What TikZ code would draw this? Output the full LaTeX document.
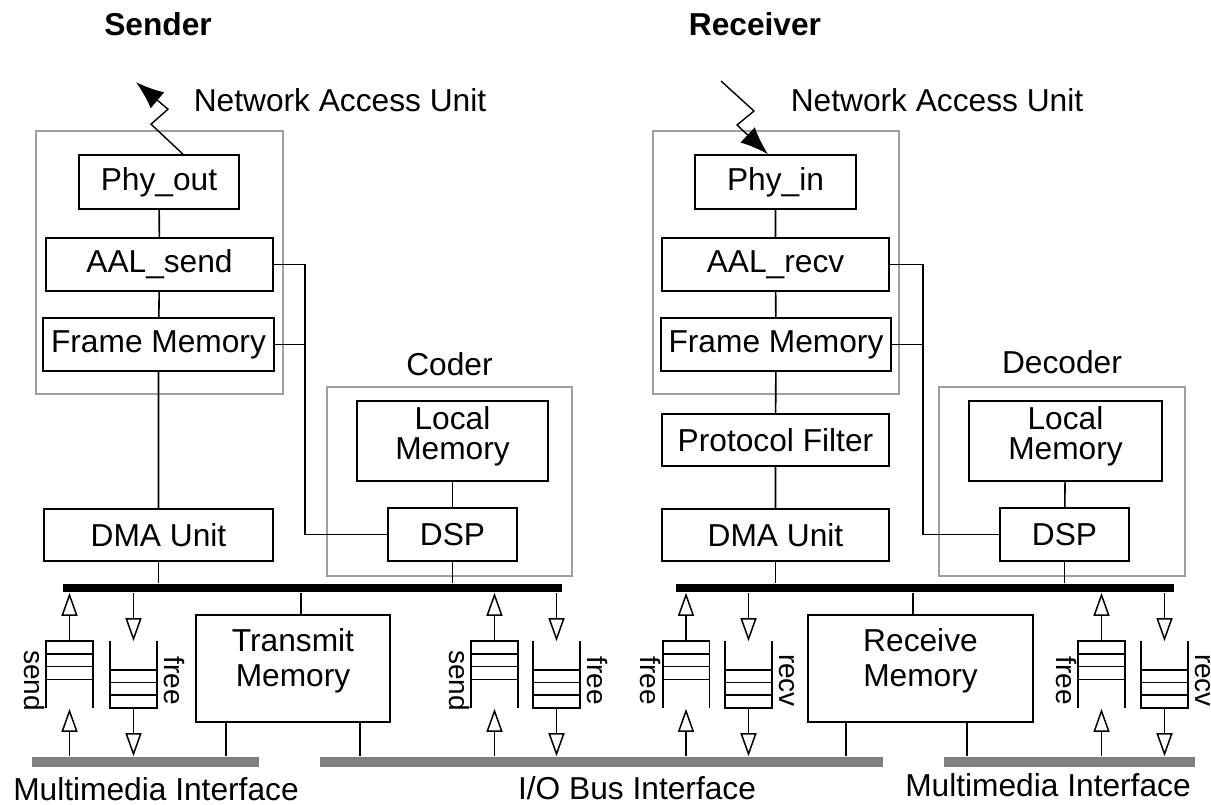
\documentclass[tikz,border=0pt]{standalone}
\usepackage{fontspec}
\setmainfont{Liberation Sans}
\usetikzlibrary{arrows.meta}

\tikzset{
  unit/.style={draw, line width=1.6pt, inner sep=0pt, font=\fontsize{31.7}{35}\selectfont},
  group/.style={draw=gray!75, line width=1.6pt, inner sep=0pt},
  caption/.style={inner sep=0pt, font=\fontsize{31.7}{35}\selectfont},
  qlabel/.style={inner sep=0pt, rotate=-90, anchor=base, font=\fontsize{28}{30}\selectfont},
  bus/.style={fill=black, inner sep=0pt, minimum height=8pt},
  iface/.style={fill=gray, inner sep=0pt, minimum height=10pt},
  queue/.style={inner sep=0pt, minimum width=45pt, minimum height=65pt},
  qarrow/.style={line width=1.5pt, -{Triangle[open, length=23pt, width=16pt]}},
  antenna/.style={line width=1.4pt, -{Latex[length=28pt, width=21pt]}},
}

\begin{document}
\begin{tikzpicture}[x=1pt, y=-1pt, line width=1.6pt]
  \useasboundingbox (0,0) rectangle (1211,805);

  \node[caption, font=\fontsize{31.7}{35}\selectfont\bfseries, anchor=base] (sender) at (158,36) {Sender};
  \node[caption, font=\fontsize{31.7}{35}\selectfont\bfseries, anchor=base] (receiver) at (755,36) {Receiver};

  % sender side
  \node[group, minimum width=247pt, minimum height=263pt] (snau) at (159.5,262.5) {};
  \node[caption, anchor=base west] (snaulab) at (193,112) {Network Access Unit};
  \node[unit, minimum width=160pt, minimum height=54pt] (phyout) at (159,182) {Phy\_out};
  \node[unit, minimum width=227pt, minimum height=53pt] (aalsend) at (159.5,264.5) {AAL\_send};
  \node[unit, minimum width=231pt, minimum height=53pt] (sfm) at (158.5,344.5) {Frame Memory};
  \node[unit, minimum width=229pt, minimum height=52pt] (sdma) at (158.5,535) {DMA Unit};

  \node[group, minimum width=245pt, minimum height=189pt] (coder) at (449.5,481.5) {};
  \node[caption, anchor=base] (coderlab) at (449.5,375) {Coder};
  \node[unit, minimum width=191pt, minimum height=80pt] (slm) at (452.5,441) {};
  \node[caption, align=center, font=\fontsize{31.7}{30}\selectfont] (slmtxt) at (452.5,436) {Local\\Memory};
  \node[unit, minimum width=129pt, minimum height=53pt] (sdsp) at (452.5,534.5) {DSP};

  \node[bus, minimum width=499pt] (sbus) at (312.5,588) {};
  \node[unit, minimum width=194pt, minimum height=107pt] (tmem) at (293,668.5) {};
  \node[caption, align=center] (tmemtxt) at (293,661) {Transmit\\Memory};

  % receiver side
  \node[group, minimum width=246pt, minimum height=263pt] (rnau) at (776,262.5) {};
  \node[caption, anchor=base west] (rnaulab) at (790,112) {Network Access Unit};
  \node[unit, minimum width=161pt, minimum height=54pt] (phyin) at (775.5,182) {Phy\_in};
  \node[unit, minimum width=227pt, minimum height=53pt] (aalrecv) at (775.5,264.5) {AAL\_recv};
  \node[unit, minimum width=230pt, minimum height=53pt] (rfm) at (776,344.5) {Frame Memory};
  \node[unit, minimum width=227pt, minimum height=52pt] (pfilter) at (775.5,440) {Protocol Filter};
  \node[unit, minimum width=227pt, minimum height=52pt] (rdma) at (775.5,535) {DMA Unit};

  \node[group, minimum width=246pt, minimum height=189pt] (decoder) at (1062,481.5) {};
  \node[caption, anchor=base] (decoderlab) at (1062,373) {Decoder};
  \node[unit, minimum width=193pt, minimum height=80pt] (rlm) at (1065.5,441) {};
  \node[caption, align=center, font=\fontsize{31.7}{30}\selectfont] (rlmtxt) at (1065.5,436) {Local\\Memory};
  \node[unit, minimum width=129pt, minimum height=53pt] (rdsp) at (1064.5,534.5) {DSP};

  \node[bus, minimum width=498pt] (rbus) at (925,588) {};
  \node[unit, minimum width=225pt, minimum height=107pt] (rmem) at (920.5,668.5) {};
  \node[caption, align=center] (rmemtxt) at (920.5,661) {Receive\\Memory};

  % interfaces
  \node[iface, minimum width=227pt] (lmm) at (145.5,762) {};
  \node[iface, minimum width=563pt] (iobus) at (601.5,762) {};
  \node[iface, minimum width=251pt] (rmm) at (1069.5,762) {};
  \node[caption, anchor=base] (lmmlab) at (156,800) {Multimedia Interface};
  \node[caption, anchor=base] (iolab) at (637,799) {I/O Bus Interface};
  \node[caption, anchor=base] (rmmlab) at (1048,796) {Multimedia Interface};

  % antennas
  \draw[antenna] ([xshift=24pt]phyout.north) -- ++(-32,-30) -- ++(17,-15) -- ++(-32,-27);
  \coordinate (rsky) at (721,81);
  \draw[antenna] (rsky) -- ++(33,30) -- ++(-17,14) -- ([xshift=-7.5pt]phyin.north);

  % links
  \draw (phyout) -- (aalsend) -- (sfm) -- (sdma);
  \draw (sdma) -- (sdma |- sbus.north);
  \draw (slm) -- (sdsp);
  \draw (sdsp) -- (sdsp |- sbus.north);
  \coordinate (sjoin) at (305,264.5);
  \draw (aalsend.east) -- (sjoin) |- (sdsp.west);
  \draw (sfm.east) -- (sfm.east -| sjoin);
  \draw ([xshift=8pt]tmem.north) -- ([xshift=8pt]tmem.north |- sbus.south);
  \draw ([xshift=-67pt]tmem.south) -- ([xshift=-67pt]tmem.south |- lmm.north);
  \draw ([xshift=67pt]tmem.south) -- ([xshift=67pt]tmem.south |- iobus.north);

  \draw (phyin) -- (aalrecv) -- (rfm) -- (pfilter) -- (rdma);
  \draw (rdma) -- (rdma |- rbus.north);
  \draw (rlm) -- (rdsp);
  \draw (rdsp) -- (rdsp |- rbus.north);
  \coordinate (rjoin) at (923,264.5);
  \draw (aalrecv.east) -- (rjoin) |- (rdsp.west);
  \draw (rfm.east) -- (rfm.east -| rjoin);
  \draw ([xshift=-7.5pt]rmem.north) -- ([xshift=-7.5pt]rmem.north |- rbus.south);
  \draw ([xshift=-74.5pt]rmem.south) -- ([xshift=-74.5pt]rmem.south |- iobus.north);
  \draw ([xshift=46.5pt]rmem.south) -- ([xshift=46.5pt]rmem.south |- rmm.north);

  % queues towards the bus
  \foreach \q/\x/\b/\f/\t in {qa/69.5/sbus/lmm/send, qc/494.5/sbus/iobus/send,
                             qe/686/rbus/iobus/free, qg/1101.5/rbus/rmm/free} {
    \node[queue] (\q) at (\x,674.5) {};
    \draw (\q.south west) -- (\q.north west) -- (\q.north east) -- (\q.south east);
    \foreach \k in {1,2,3}
      \draw ([yshift=-12.7pt*\k]\q.north west) -- ([yshift=-12.7pt*\k]\q.north east);
    \draw[qarrow] (\q.north) -- (\q.north |- \b.south);
    \draw[qarrow] (\q.south |- \f.north) -- ([yshift=-1pt]\q.south);
    \node[qlabel] (lab\q) at ([xshift=-22pt, yshift=-6pt]\q.west) {\t};
  }

  % queues away from the bus
  \foreach \q/\x/\b/\f/\t in {qb/133.5/sbus/lmm/free, qd/556.5/sbus/iobus/free,
                             qf/748.5/rbus/iobus/recv, qh/1164.5/rbus/rmm/recv} {
    \node[queue] (\q) at (\x,674.5) {};
    \draw (\q.north west) -- (\q.south west) -- (\q.south east) -- (\q.north east);
    \foreach \k in {1,2,3}
      \draw ([yshift=12.7pt*\k]\q.south west) -- ([yshift=12.7pt*\k]\q.south east);
    \draw[qarrow] (\q.north |- \b.south) -- (\q.north);
    \draw[qarrow] (\q.south) -- (\q.south |- \f.north);
    \node[qlabel] (lab\q) at ([xshift=8pt, yshift=-6pt]\q.east) {\t};
  }
\end{tikzpicture}
\end{document}
